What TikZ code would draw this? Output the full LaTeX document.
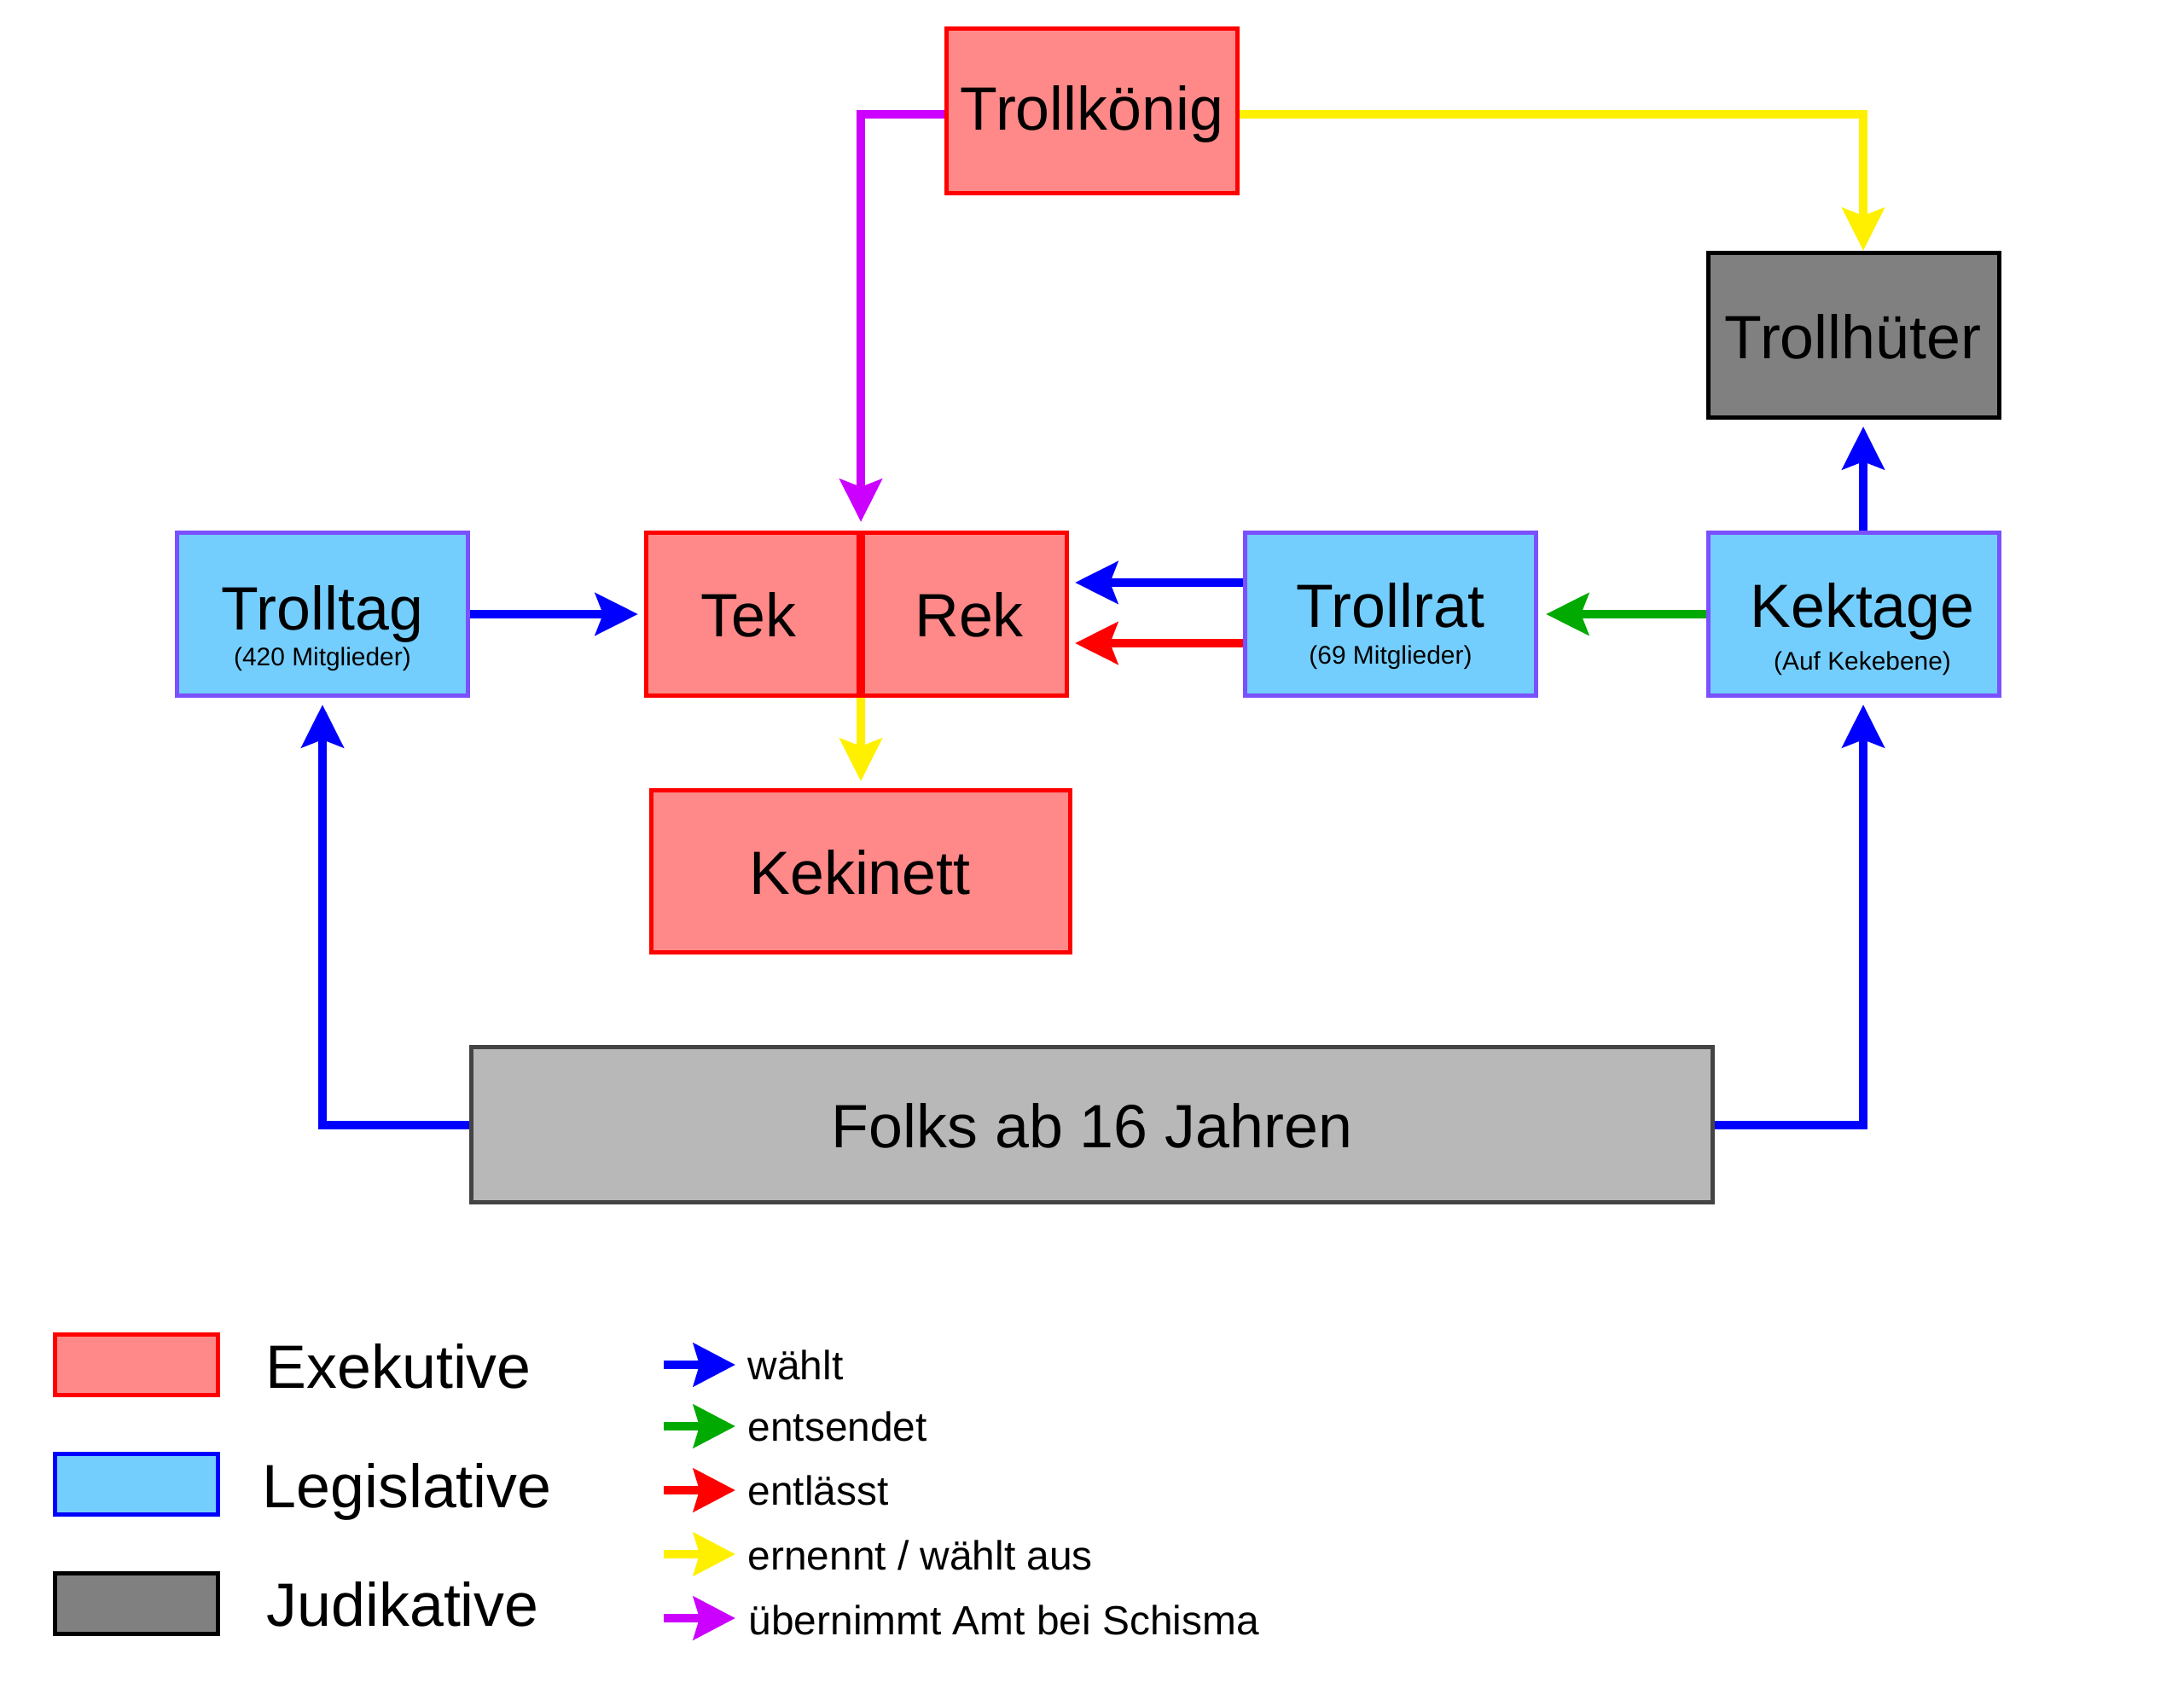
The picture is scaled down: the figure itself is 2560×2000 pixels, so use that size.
\documentclass[tikz,border=0pt]{standalone}
\usepackage{fontspec}
\setmainfont{Liberation Sans}
\usetikzlibrary{arrows.meta}
\definecolor{exfill}{HTML}{FF8888}
\definecolor{exdraw}{HTML}{FF0000}
\definecolor{legfill}{HTML}{74CEFD}
\definecolor{legdraw}{HTML}{7A50FF}
\definecolor{judfill}{HTML}{808080}
\definecolor{folkfill}{HTML}{B8B8B8}
\definecolor{folkdraw}{HTML}{444444}
\definecolor{cblue}{HTML}{0000FF}
\definecolor{cgreen}{HTML}{00AA00}
\definecolor{cred}{HTML}{FF0000}
\definecolor{cyellow}{HTML}{FFF000}
\definecolor{cpurple}{HTML}{CC00FF}
\begin{document}
\begin{tikzpicture}[x=0.01cm,y=-0.01cm,
  box/.style={rectangle, draw, line width=0.05cm, inner sep=0pt},
  exbox/.style={box, draw=exdraw, fill=exfill},
  legbox/.style={box, draw=legdraw, fill=legfill},
  judbox/.style={box, draw=black, fill=judfill},
  folkbox/.style={box, draw=folkdraw, fill=folkfill},
  big/.style={inner sep=0pt, anchor=base, font=\fontsize{20.4pt}{24pt}\selectfont},
  sub/.style={inner sep=0pt, anchor=base, font=\fontsize{8.5pt}{10pt}\selectfont},
  legbig/.style={inner sep=0pt, anchor=base west, font=\fontsize{20.4pt}{24pt}\selectfont},
  legsmall/.style={inner sep=0pt, anchor=base west, font=\fontsize{13.6pt}{16pt}\selectfont},
  conn/.style={line width=0.1cm, line join=miter, -{Stealth[length=0.5cm,width=0.49cm,inset=0.09cm]}},
  legarrow/.style={line width=0.1cm, -{Stealth[length=0.49cm,width=0.5cm,inset=0.07cm]}}
]
\fill[white] (0,0) rectangle (2560,2000);

% boxes
\node[exbox, minimum width=3.41cm, minimum height=1.93cm] (koenig) at (1280,130) {};
\node[judbox, minimum width=3.41cm, minimum height=1.93cm] (hueter) at (2173,393) {};
\node[legbox, minimum width=3.41cm, minimum height=1.91cm] (trolltag) at (378,720) {};
\node[exbox, minimum width=2.49cm, minimum height=1.91cm] (tek) at (882,720) {};
\node[exbox, minimum width=2.39cm, minimum height=1.91cm] (rek) at (1131,720) {};
\node[legbox, minimum width=3.41cm, minimum height=1.91cm] (trollrat) at (1630,720) {};
\node[legbox, minimum width=3.41cm, minimum height=1.91cm] (kektage) at (2173,720) {};
\node[exbox, minimum width=4.91cm, minimum height=1.90cm] (kekinett) at (1009,1021.5) {};
\node[folkbox, minimum width=14.55cm, minimum height=1.82cm] (folks) at (1280,1318.5) {};

% texts
\node[big] (tkoenig) at (1280,153) {Trollkönig};
\node[big] (thueter) at (2172,420) {Trollhüter};
\node[big] (ttrolltag) at (378,738) {Trolltag};
\node[sub] (strolltag) at (378,780) {(420 Mitglieder)};
\node[big] (ttek) at (877,746) {Tek};
\node[big] (trek) at (1136,746) {Rek};
\node[big] (ttrollrat) at (1630,735) {Trollrat};
\node[sub] (strollrat) at (1630,778) {(69 Mitglieder)};
\node[big] (tkektage) at (2183,735) {Kektage};
\node[sub] (skektage) at (2183,785) {(Auf Kekebene)};
\node[big] (tkekinett) at (1008,1048) {Kekinett};
\node[big] (tfolks) at (1280,1345) {Folks ab 16 Jahren};

% connectors
\draw[conn, cpurple] ([yshift=-0.04cm]koenig.west) -| ([yshift=0.10cm]tek.north east);
\draw[conn, cyellow] ([yshift=-0.04cm]koenig.east) -| ([xshift=0.11cm]hueter.north);
\draw[conn, cblue] ([xshift=0.11cm]kektage.north) -- ([xshift=0.11cm,yshift=-0.08cm]hueter.south);
\draw[conn, cblue] (folks.west) -| ([yshift=-0.08cm]trolltag.south);
\draw[conn, cblue] (folks.east) -| ([xshift=0.11cm,yshift=-0.08cm]kektage.south);
\draw[conn, cblue] (trolltag.east) -- ([xshift=-0.07cm]tek.west);
\draw[conn, cblue] ([yshift=0.37cm]trollrat.west) -- ([xshift=0.07cm,yshift=0.37cm]rek.east);
\draw[conn, cred] ([yshift=-0.34cm]trollrat.west) -- ([xshift=0.07cm,yshift=-0.34cm]rek.east);
\draw[conn, cgreen] (kektage.west) -- ([xshift=0.09cm]trollrat.east);
\draw[conn, cyellow] (tek.south east) -- ([yshift=0.08cm]kekinett.north);

% legend boxes
\node[box, draw=exdraw, fill=exfill, minimum width=1.91cm, minimum height=0.71cm] (lex) at (160,1600) {};
\node[box, draw=cblue, fill=legfill, minimum width=1.91cm, minimum height=0.71cm] (lleg) at (160,1740) {};
\node[box, draw=black, fill=judfill, minimum width=1.91cm, minimum height=0.71cm] (ljud) at (160,1880) {};
\node[legbig] (tlex) at (311,1627) {Exekutive};
\node[legbig] (tlleg) at (307,1767) {Legislative};
\node[legbig] (tljud) at (312,1906) {Judikative};

% legend arrows
\coordinate (la1) at (778,1600); \coordinate (lb1) at (862,1600);
\coordinate (la2) at (778,1672); \coordinate (lb2) at (862,1672);
\coordinate (la3) at (778,1747); \coordinate (lb3) at (862,1747);
\coordinate (la4) at (778,1822); \coordinate (lb4) at (862,1822);
\coordinate (la5) at (778,1897); \coordinate (lb5) at (862,1897);
\draw[legarrow, cblue] (la1) -- (lb1);
\draw[legarrow, cgreen] (la2) -- (lb2);
\draw[legarrow, cred] (la3) -- (lb3);
\draw[legarrow, cyellow] (la4) -- (lb4);
\draw[legarrow, cpurple] (la5) -- (lb5);
\node[legsmall] (tl1) at (876,1617) {wählt};
\node[legsmall] (tl2) at (876,1689) {entsendet};
\node[legsmall] (tl3) at (876,1764) {entlässt};
\node[legsmall] (tl4) at (876,1840) {ernennt / wählt aus};
\node[legsmall] (tl5) at (877,1916) {übernimmt Amt bei Schisma};
\end{tikzpicture}
\end{document}
